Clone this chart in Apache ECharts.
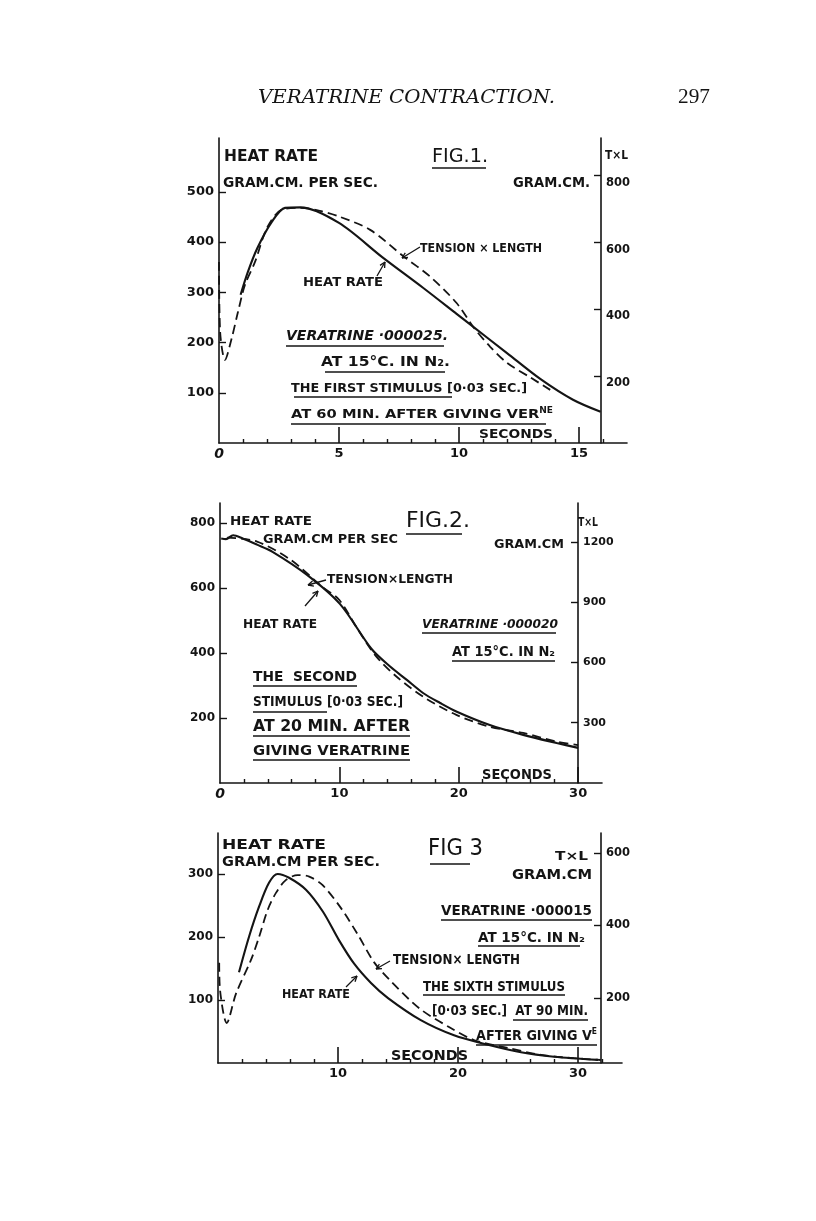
<!DOCTYPE html>
<html><head><meta charset="utf-8">
<script src="https://cdn.jsdelivr.net/npm/echarts@6/dist/echarts.min.js"></script>
<style>html,body{margin:0;padding:0;background:#fff}#c{width:816px;height:1221px}</style>
</head><body><div id="c"></div>
<script>
// ---------- FIG 1 ----------
const fig1HeatT = [0.9, 1.2, 1.6, 2.2, 2.75, 3.4, 5.0, 6.8, 8.5, 9.9, 10.33, 12.0, 13.4, 14.75, 15.9];
const fig1HeatV = [295, 340, 388, 440, 468, 469, 438, 370, 309, 257, 241, 179, 127, 86, 62];
const fig1TxLT = [0, 0.05, 0.25, 0.53, 0.79, 1.08, 1.5, 2.0, 2.6, 3.4, 4.2, 5.0, 6.3, 7.7, 8.8, 9.9, 10.6, 11.3, 12.0, 13.0, 13.8];
const fig1TxLV = [542, 330, 249, 314, 392, 473, 542, 644, 698, 704, 695, 678, 638, 558, 498, 419, 347, 288, 240, 195, 159];
const fig1LeftTicks = [100, 200, 300, 400, 500];
const fig1RightTicks = [200, 400, 600, 800];
const fig1MajorX = [5, 10, 15];
const fig1MinorX = [1, 2, 3, 4, 6, 7, 8, 9, 11, 12, 13, 14, 16];
const fig1XLabels = [0, 5, 10, 15];

// ---------- FIG 2 ----------
const fig2HeatT = [0.1, 0.5, 1.1, 1.9, 3.1, 4.4, 7.29, 10.06, 12.7, 14.25, 15.65, 17.04, 18.44, 19.84, 22.6, 25.4, 28.2, 30];
const fig2HeatV = [752, 750, 762, 752, 733, 711, 640, 550, 412, 358, 317, 276, 246, 219, 178, 148, 123, 108];
const fig2TxLT = [0.6, 3.1, 5.9, 8.6, 10.0, 11.5, 13.1, 14.8, 17.0, 19.8, 22.6, 25.4, 28.2, 30];
const fig2TxLV = [1222, 1202, 1112, 975, 911, 769, 629, 529, 430, 339, 280, 249, 206, 189];
const fig2LeftTicks = [200, 400, 600, 800];
const fig2RightTicks = [300, 600, 900, 1200];
const fig2MajorX = [10, 20, 30];
const fig2MinorX = [2, 4, 6, 8, 12, 14, 16, 18, 22, 24, 26, 28];
const fig2XLabels = [0, 10, 20, 30];

// ---------- FIG 3 ----------
const fig3HeatT = [1.75, 2.58, 3.42, 4.25, 4.97, 5.92, 7.33, 8.75, 10.08, 11.33, 12.75, 14.17, 16.9, 19.67, 22.5, 25.25, 28, 31.67];
const fig3HeatV = [144, 200, 248, 286, 300, 294, 275, 240, 195, 158, 127, 103, 68, 44, 29, 17, 10, 5];
const fig3TxLT = [0.1, 0.17, 0.73, 1.5, 2.75, 3.42, 4.14, 4.83, 5.67, 6.64, 7.6, 8.7, 10.25, 11.67, 13.0, 14.3, 16.8, 19.25, 21.33, 24.17, 26.92, 29.67, 31.9];
const fig3TxLV = [297, 222, 131, 212, 305, 368, 443, 490, 526, 539, 535, 512, 448, 374, 299, 250, 171, 120, 84, 62, 43, 34, 29];
const fig3LeftTicks = [100, 200, 300];
const fig3RightTicks = [200, 400, 600];
const fig3MajorX = [10, 20, 30];
const fig3MinorX = [2, 4, 6, 8, 12, 14, 16, 18, 22, 24, 26, 28, 32];
const fig3XLabels = [10, 20, 30];

const zip = (a, b) => a.map((v, i) => [v, b[i]]);
const INK = '#141414';
const HAND = '"DejaVu Sans", sans-serif';

function xMinor(grid, max, ticks) {
  return {gridIndex: grid, type: 'value', min: 0, max: max, position: 'bottom',
    axisLine: {show: true, onZero: false, lineStyle: {color: INK, width: 1.6}},
    axisTick: {show: true, inside: true, length: 4, customValues: ticks, lineStyle: {color: INK, width: 1.4}},
    axisLabel: {show: false}, splitLine: {show: false}};
}
function xMajor(grid, max, ticks, labels) {
  return {gridIndex: grid, type: 'value', min: 0, max: max, position: 'bottom',
    axisLine: {show: false, onZero: false},
    axisTick: {show: true, inside: true, length: 16, customValues: ticks, lineStyle: {color: INK, width: 1.6}},
    axisLabel: {show: true, margin: 4, customValues: labels, color: INK, fontFamily: HAND, fontWeight: 'bold', fontSize: 13,
      formatter: v => v === 0 ? '{i|0}' : String(v),
      rich: {i: {fontStyle: 'italic', fontFamily: HAND, fontWeight: 'bold', fontSize: 14, color: INK}}},
    splitLine: {show: false}};
}
function yAxis(grid, pos, min, max, ticks, offset, fs, extraLabel) {
  return {gridIndex: grid, type: 'value', position: pos, min: min, max: max, offset: offset || 0,
    axisLine: {show: true, onZero: false, lineStyle: {color: INK, width: 1.6}},
    axisTick: {show: true, inside: true, length: 7, customValues: ticks, lineStyle: {color: INK, width: 1.4}},
    axisLabel: Object.assign({show: true, margin: 5, customValues: ticks, formatter: v => String(v),
      color: INK, fontFamily: HAND, fontWeight: 'bold', fontSize: fs}, extraLabel || {}),
    splitLine: {show: false}};
}
function solid(xi, yi, data) {
  return {type: 'line', xAxisIndex: xi, yAxisIndex: yi, data: data, showSymbol: false, smooth: 0.3,
    lineStyle: {color: INK, width: 2.1}, silent: true, z: 3};
}
function dashed(xi, yi, data) {
  return {type: 'line', xAxisIndex: xi, yAxisIndex: yi, data: data, showSymbol: false, smooth: 0.3,
    lineStyle: {color: INK, width: 1.8, type: [9, 5]}, silent: true, z: 3};
}

// ----- text / annotation helpers (layout only) -----
const G = [];
const mctx = document.createElement('canvas').getContext('2d');
const SUP = 8;
function T(x1, x2, y, text, size, opt) {
  opt = opt || {};
  const font = (opt.style || 'normal') + ' ' + (opt.weight || 'bold') + ' ' + size + 'px ' + (opt.family || HAND);
  mctx.font = font;
  let w = 0;
  text.split(/(\{\w+\|[^}]*\})/).forEach(part => {
    const m = part.match(/^\{\w+\|([^}]*)\}$/);
    if (m) w += mctx.measureText(m[1]).width * SUP / size;
    else w += mctx.measureText(part).width;
  });
  const sx = w > 0 ? (x2 - x1) / w : 1;
  G.push({type: 'text', x: x1, y: y, scaleX: sx, z: 10, silent: true,
    style: Object.assign({text: text, fill: INK, textAlign: 'left', textVerticalAlign: 'middle', font: font},
      opt.rich ? {rich: opt.rich} : {})});
}
function U(x1, x2, y) {
  G.push({type: 'line', z: 10, silent: true, shape: {x1: x1, y1: y, x2: x2, y2: y}, style: {stroke: INK, lineWidth: 1.5}});
}
function A(x1, y1, x2, y2) {
  G.push({type: 'line', z: 10, silent: true, shape: {x1: x1, y1: y1, x2: x2, y2: y2}, style: {stroke: INK, lineWidth: 1.3}});
  const ang = Math.atan2(y2 - y1, x2 - x1), L = 6;
  [0.45, -0.45].forEach(d => {
    G.push({type: 'line', z: 10, silent: true,
      shape: {x1: x2, y1: y2, x2: x2 - L * Math.cos(ang + d), y2: y2 - L * Math.sin(ang + d)},
      style: {stroke: INK, lineWidth: 1.3}});
  });
}
const supRich = {s: {fontSize: SUP, fontFamily: HAND, fontWeight: 'bold', color: INK, verticalAlign: 'top', padding: [0, 0, 8, 0]}};

// header
T(258, 555, 98, 'VERATRINE CONTRACTION.', 18.5, {style: 'italic', weight: 'normal', family: '"DejaVu Serif", serif'});
T(678, 710, 98, '297', 20, {weight: 'normal', family: '"Liberation Serif", serif'});

// fig 1 texts
T(224, 318, 157, 'HEAT RATE', 15);
T(223, 378, 183, 'GRAM.CM. PER SEC.', 14);
T(432, 488, 157, 'FIG.1.', 20, {weight: 'normal'});
U(432, 486, 168);
T(605, 628, 156, 'T×L', 13);
T(513, 590, 183, 'GRAM.CM.', 14);
T(420, 542, 249, 'TENSION × LENGTH', 12);
A(420, 247, 402, 258);
T(303, 383, 283, 'HEAT RATE', 11.5);
A(377, 276, 385, 262);
T(286, 448, 336, 'VERATRINE ·000025.', 13.5, {style: 'italic'});
U(286, 444, 346);
T(321, 450, 362, 'AT 15°C. IN N₂.', 14);
U(325, 445, 372);
T(291, 527, 389, 'THE FIRST STIMULUS [0·03 SEC.]', 12);
U(294, 452, 397);
T(291, 553, 415, 'AT 60 MIN. AFTER GIVING VER{s|NE}', 13, {rich: supRich});
U(291, 546, 424);
T(479, 553, 435, 'SECONDS', 12);

// fig 2 texts
T(230, 312, 522, 'HEAT RATE', 12.5);
T(263, 398, 540, 'GRAM.CM PER SEC', 11.5);
T(406, 470, 521, 'FIG.2.', 22, {weight: 'normal'});
U(406, 462, 534);
T(578, 598, 523, 'T×L', 12);
T(494, 564, 545, 'GRAM.CM', 12);
T(327, 453, 580, 'TENSION×LENGTH', 12.3);
A(326, 580, 308, 585);
T(243, 317, 625, 'HEAT RATE', 12.3);
A(305, 606, 318, 591);
T(422, 558, 625, 'VERATRINE ·000020', 12.3, {style: 'italic'});
U(422, 556, 633);
T(452, 555, 652, 'AT 15°C. IN N₂', 13.5);
U(452, 555, 661);
T(253, 357, 677, 'THE  SECOND', 13.5);
U(253, 357, 686);
T(253, 403, 702, 'STIMULUS [0·03 SEC.]', 14);
U(253, 327, 712);
T(253, 410, 727, 'AT 20 MIN. AFTER', 15);
U(253, 410, 736);
T(253, 410, 751, 'GIVING VERATRINE', 13.5);
U(253, 410, 760);
T(482, 552, 775, 'SECONDS', 13.5);

// fig 3 texts
T(222, 326, 845, 'HEAT RATE', 13.7);
T(222, 380, 862, 'GRAM.CM PER SEC.', 13.5);
T(428, 483, 849, 'FIG 3', 23, {weight: 'normal'});
U(430, 470, 864);
T(555, 588, 857, 'T×L', 11.5);
T(512, 592, 875, 'GRAM.CM', 13.5);
T(441, 592, 911, 'VERATRINE ·000015', 14.5);
U(441, 592, 920);
T(478, 585, 938, 'AT 15°C. IN N₂', 13.7);
U(478, 580, 946);
T(393, 520, 960, 'TENSION× LENGTH', 13.5);
A(390, 961, 376, 969);
T(282, 350, 995, 'HEAT RATE', 12.5);
A(346, 987, 357, 976);
T(423, 565, 987, 'THE SIXTH STIMULUS', 13.5);
U(423, 565, 995);
T(432, 588, 1011, '[0·03 SEC.]  AT 90 MIN.', 14);
U(513, 588, 1020);
T(476, 597, 1036, 'AFTER GIVING V{s|E}', 13.5, {rich: supRich});
U(476, 597, 1045);
T(391, 468, 1056, 'SECONDS', 13.5);

const option = {
  animation: false,
  backgroundColor: '#ffffff',
  grid: [
    {left: 219, top: 138, width: 408, height: 305},
    {left: 220, top: 503, width: 382, height: 280},
    {left: 218, top: 833, width: 404, height: 230}
  ],
  xAxis: [
    xMinor(0, 17, fig1MinorX), xMajor(0, 17, fig1MajorX, fig1XLabels),
    xMinor(1, 32, fig2MinorX), xMajor(1, 32, fig2MajorX, fig2XLabels),
    xMinor(2, 33.67, fig3MinorX), xMajor(2, 33.67, fig3MajorX, fig3XLabels)
  ],
  yAxis: [
    yAxis(0, 'left', 0, 607, fig1LeftTicks, 0, 13),
    yAxis(0, 'right', 0, 913, fig1RightTicks, -26, 11.5, {verticalAlign: 'top', padding: [1, 0, 0, 0]}),
    yAxis(1, 'left', 0, 861, fig2LeftTicks, 0, 12),
    yAxis(1, 'right', 0, 1394, fig2RightTicks, -24, 11),
    yAxis(2, 'left', 0, 365, fig3LeftTicks, 0, 12),
    yAxis(2, 'right', 20.7, 655.2, fig3RightTicks, -21, 11.5)
  ],
  series: [
    solid(0, 0, zip(fig1HeatT, fig1HeatV)),
    dashed(0, 1, zip(fig1TxLT, fig1TxLV)),
    solid(2, 2, zip(fig2HeatT, fig2HeatV)),
    dashed(2, 3, zip(fig2TxLT, fig2TxLV)),
    solid(4, 4, zip(fig3HeatT, fig3HeatV)),
    dashed(4, 5, zip(fig3TxLT, fig3TxLV))
  ],
  graphic: G
};
const chart = echarts.init(document.getElementById('c'), null, {renderer: 'canvas'});
chart.setOption(option);
</script>
</body></html>
